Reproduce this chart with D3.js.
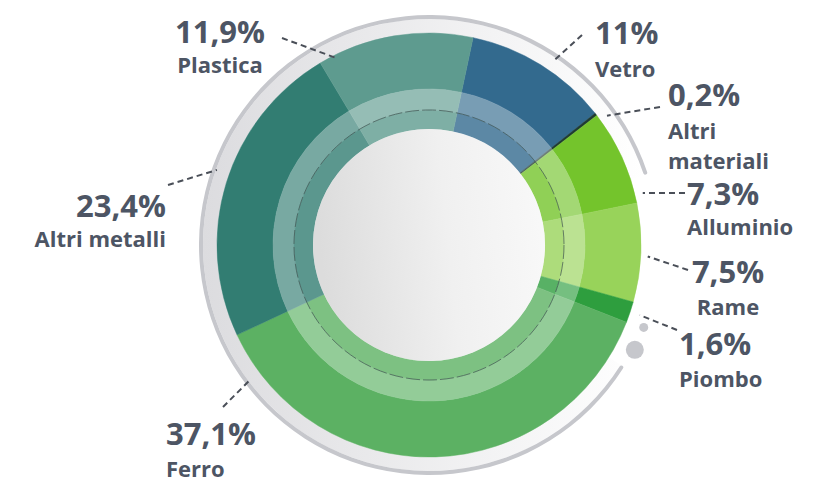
<!DOCTYPE html>
<html>
<head>
<meta charset="utf-8">
<script src="https://cdn.jsdelivr.net/npm/d3@7"></script>
<style>
  body { margin: 0; background: #fff; }
  text { font-family: "Open Sans", sans-serif; font-weight: 700; fill: #4d5564; }
</style>
</head>
<body>
<svg></svg>
<script>
// data, clockwise from the top
var materials = ["Vetro", "Altri materiali", "Alluminio", "Rame", "Piombo", "Ferro", "Altri metalli", "Plastica"];
var shares = [11, 0.2, 7.3, 7.5, 1.6, 37.1, 23.4, 11.9];
var colors = ["#336a8e", "#1f3b34", "#74c42c", "#98d35a", "#2e9e3e", "#5cb163", "#327d72", "#5e9b8f"];

// label placement: leader angle/radius on the ring, leader outer end, text anchor
var labelLayout = [
    {angle: 34,    r: 221, lx: 582, ly: 35,  anchor: "start",  tx: 595, py: 44,  ny: 77},
    {angle: 54,    r: 220, lx: 660, ly: 107, anchor: "start",  tx: 668, py: 106, ny: 139, wrap: true},
    {angle: 76.3,  r: 220, lx: 685, ly: 193, anchor: "start",  tx: 687, py: 205, ny: 235},
    {angle: 93,    r: 219, lx: 688, ly: 270, anchor: "middle", tx: 728, py: 283, ny: 315},
    {angle: 108.4, r: 222, lx: 677, ly: 330, anchor: "start",  tx: 679, py: 355, ny: 387},
    {angle: 233,   r: 224, lx: 223, ly: 407, anchor: "start",  tx: 166, py: 445, ny: 477},
    {angle: 289.5, r: 225, lx: 168, ly: 185, anchor: "end",    tx: 166, py: 217, ny: 247},
    {angle: 333.8, r: 208, lx: 282, ly: 38,  anchor: "middle", tx: 220, py: 43,  ny: 73}
];

var W = 821, H = 483;
var cx = 429, cy = 245;
var rad = Math.PI / 180;
var start = 12 * rad;

var svg = d3.select("svg").attr("width", W).attr("height", H);

var defs = svg.append("defs");
var g1 = defs.append("linearGradient").attr("id", "halo").attr("x1", "0").attr("x2", "1").attr("y1", "0").attr("y2", "0");
g1.append("stop").attr("offset", "0").attr("stop-color", "#dcdcdf");
g1.append("stop").attr("offset", "1").attr("stop-color", "#ffffff");
var g2 = defs.append("linearGradient").attr("id", "hole").attr("x1", "0").attr("x2", "1").attr("y1", "0.2").attr("y2", "0.1");
g2.append("stop").attr("offset", "0").attr("stop-color", "#dcdcdc");
g2.append("stop").attr("offset", "0.55").attr("stop-color", "#f0f0f0");
g2.append("stop").attr("offset", "1").attr("stop-color", "#f9f9f9");

var chart = svg.append("g").attr("transform", "translate(" + cx + "," + cy + ")");

// outer halo + grey frame with gap on the right
var haloArc = d3.arc().innerRadius(212).outerRadius(226).startAngle(122 * rad).endAngle(432 * rad);
chart.append("path").attr("d", haloArc()).attr("fill", "url(#halo)");
var frameArc = d3.arc().innerRadius(226).outerRadius(230).startAngle(122 * rad).endAngle(432 * rad).cornerRadius(2);
chart.append("path").attr("d", frameArc()).attr("fill", "#c6c7cc");

chart.selectAll(".dot").data([{a: 111, r: 230, s: 4.5}, {a: 117, r: 231, s: 9}])
    .enter().append("circle")
    .attr("cx", d => d.r * Math.sin(d.a * rad))
    .attr("cy", d => -d.r * Math.cos(d.a * rad))
    .attr("r", d => d.s)
    .attr("fill", "#c6c7cc");

var pie = d3.pie().sort(null).value(d => d).startAngle(start).endAngle(start + 2 * Math.PI);
var slices = pie(shares);

var bands = [
    {inner: 156, outer: 212, tint: 0},
    {inner: 135, outer: 156, tint: 0.34},
    {inner: 116, outer: 135, tint: 0.2}
];

bands.forEach(function(b) {
    var arc = d3.arc().innerRadius(b.inner).outerRadius(b.outer);
    chart.append("g").selectAll("path").data(slices)
        .enter().append("path")
        .attr("d", arc)
        .attr("fill", (d, i) => d3.interpolateRgb(colors[i], "#ffffff")(b.tint))
        .attr("stroke", (d, i) => d3.interpolateRgb(colors[i], "#ffffff")(b.tint))
        .attr("stroke-width", 0.5);
});

// dashed guide circle between the tinted bands
chart.append("circle").attr("r", 135)
    .attr("fill", "none")
    .attr("stroke", "#3f5250")
    .attr("stroke-opacity", 0.7)
    .attr("stroke-width", 1)
    .attr("stroke-dasharray", "14,3");

// centre hole
chart.append("circle").attr("r", 116).attr("fill", "url(#hole)");

// leader lines and labels (value + name in one text block)
var labels = svg.append("g");
labelLayout.forEach(function(l, i) {
    labels.append("line")
        .attr("x1", l.lx).attr("y1", l.ly)
        .attr("x2", cx + l.r * Math.sin(l.angle * rad))
        .attr("y2", cy - l.r * Math.cos(l.angle * rad))
        .attr("stroke", "#4a4f58")
        .attr("stroke-width", 2)
        .attr("stroke-dasharray", "6,4");

    var txt = labels.append("text")
        .attr("x", l.tx).attr("y", l.py)
        .attr("text-anchor", l.anchor);

    txt.append("tspan")
        .attr("x", l.tx).attr("y", l.py)
        .style("font-size", "31px")
        .text(String(shares[i]).replace(".", ",") + "%");

    var lines = l.wrap ? materials[i].split(" ") : [materials[i]];
    lines.forEach(function(t, j) {
        txt.append("tspan")
            .attr("x", l.tx).attr("y", l.ny + j * 30)
            .style("font-size", "22px")
            .text(t);
    });
});
</script>
</body>
</html>
